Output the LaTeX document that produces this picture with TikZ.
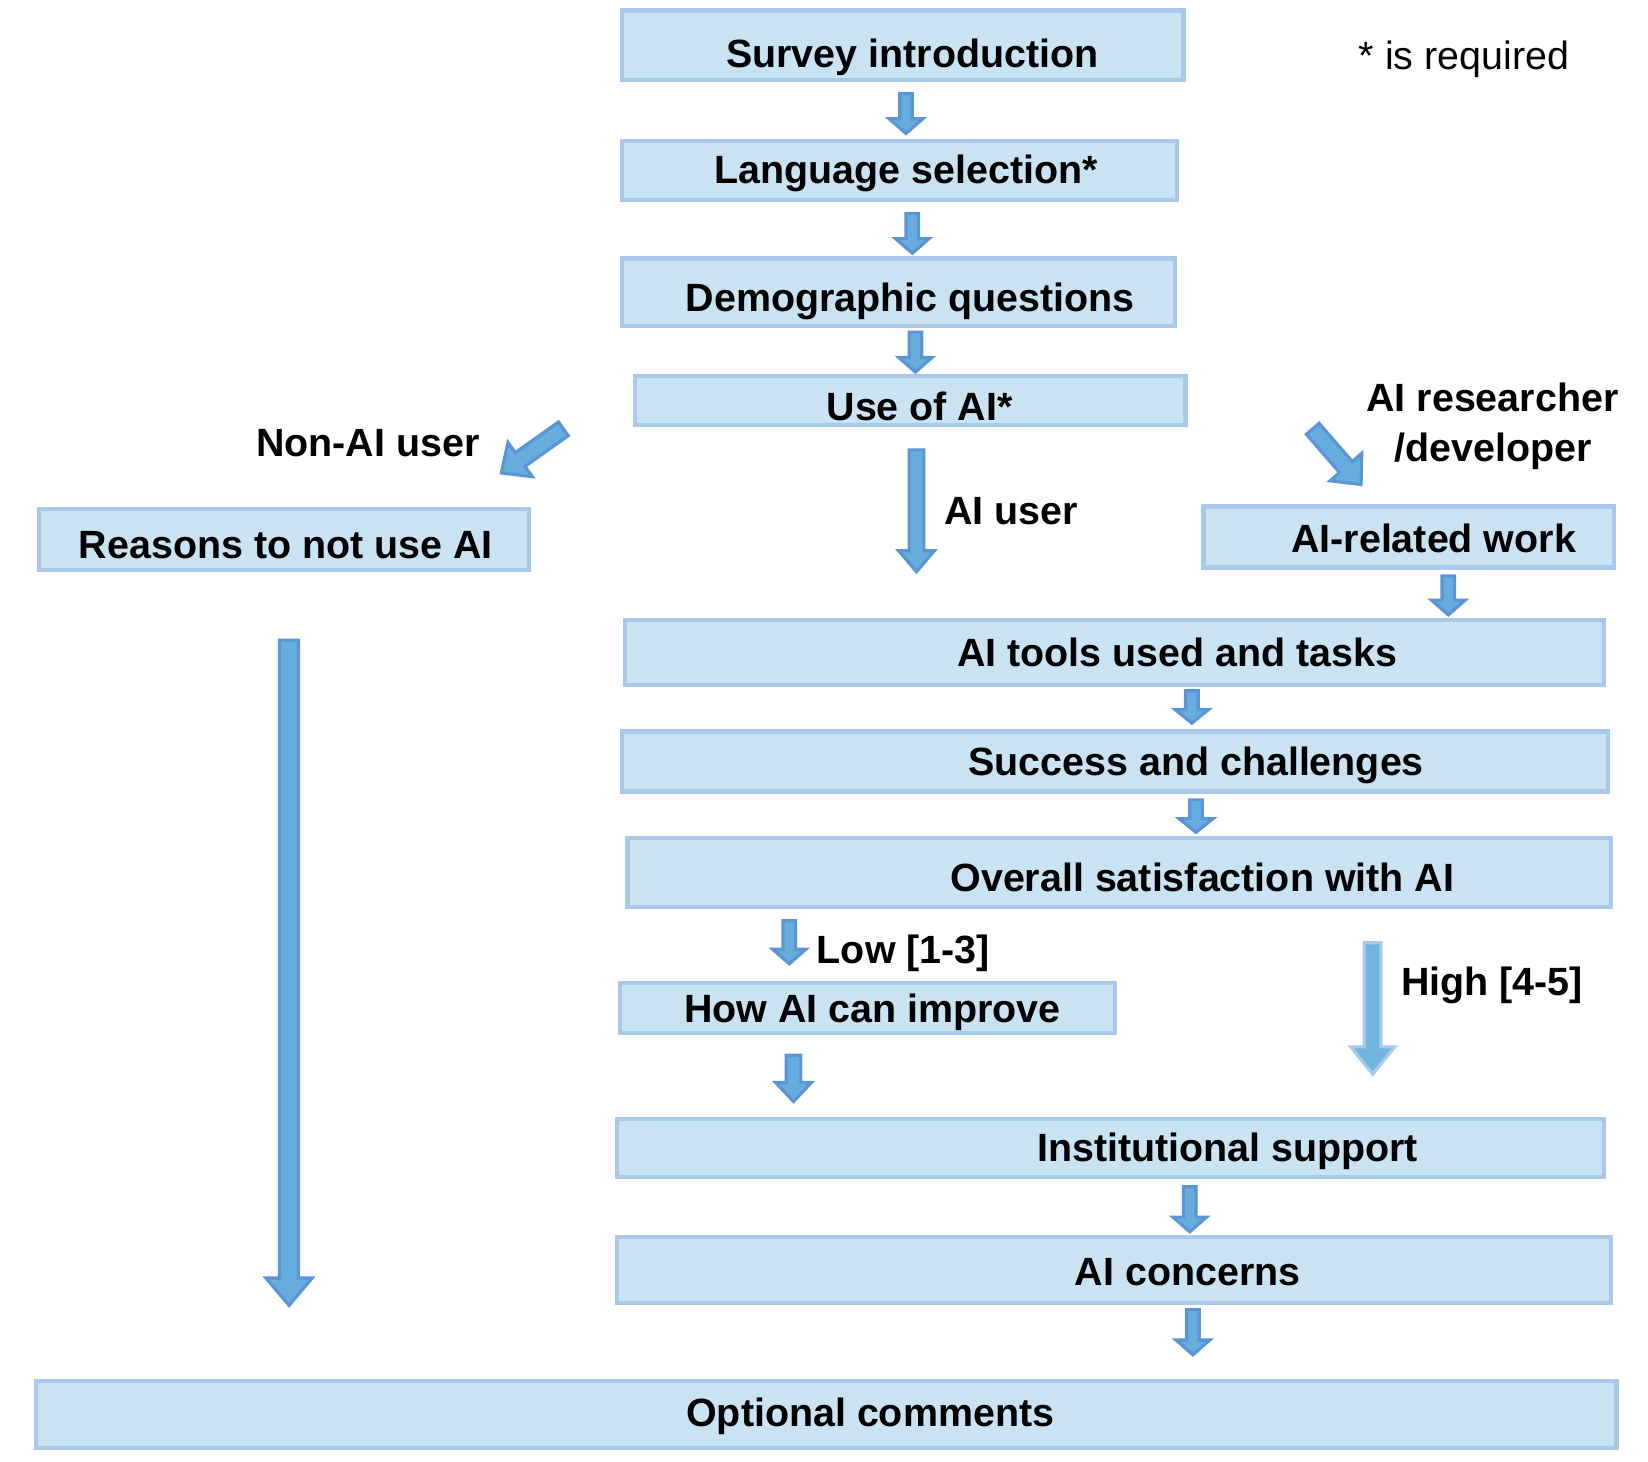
\documentclass[tikz,border=0pt]{standalone}
\usepackage{fontspec}
\setmainfont{Liberation Sans}
\definecolor{boxfill}{HTML}{C9E3F2}
\definecolor{boxline}{HTML}{A9C8EA}
\definecolor{arrfill}{HTML}{65ADDC}
\definecolor{arrline}{HTML}{5B95D5}
\definecolor{arrlight}{HTML}{A9CBEA}
\newcommand\barrow[8][]{%
  \pgfmathsetmacro\bdx{#4-#2}\pgfmathsetmacro\bdy{#5-#3}%
  \pgfmathsetmacro\bL{veclen(\bdx,\bdy)}%
  \pgfmathsetmacro\bux{\bdx/\bL}\pgfmathsetmacro\buy{\bdy/\bL}%
  \pgfmathsetmacro\bnx{-\buy}\pgfmathsetmacro\bny{\bux}%
  \pgfmathsetmacro\bpx{#4-#8*\bux}\pgfmathsetmacro\bpy{#5-#8*\buy}%
  \draw[blockarr,#1] ({#2+#6*(\bnx)},{#3+#6*(\bny)}) -- ({\bpx+#6*(\bnx)},{\bpy+#6*(\bny)})
    -- ({\bpx+#7*(\bnx)},{\bpy+#7*(\bny)}) -- (#4,#5)
    -- ({\bpx-#7*(\bnx)},{\bpy-#7*(\bny)}) -- ({\bpx-#6*(\bnx)},{\bpy-#6*(\bny)})
    -- ({#2-#6*(\bnx)},{#3-#6*(\bny)}) -- cycle;}
\tikzset{
  stepbox/.style={draw=boxline, fill=boxfill, line width=4pt},
  boxtext/.style={font=\bfseries, anchor=center, inner sep=0pt, text height=27pt, text depth=0pt},
  lbl/.style={font=\bfseries, inner sep=0pt, anchor=west, text height=27pt, text depth=0pt},
  blockarr/.style={draw=arrline, fill=arrfill, line width=3pt, line join=miter},
}
\begin{document}
\begin{tikzpicture}[x=1pt,y=-1pt]
\fontsize{37.5}{46}\selectfont
\useasboundingbox (0,0) rectangle (1568,1391);
% boxes
\draw[stepbox] (592,10) rectangle (1126,76);
\node[boxtext] (intro) at (868,51) {Survey introduction};
\draw[stepbox] (592,134) rectangle (1120,190);
\node[boxtext] (lang) at (862,161) {Language selection*};
\draw[stepbox] (592,246) rectangle (1118,310);
\node[boxtext] (demo) at (866,283) {Demographic questions};
\draw[stepbox] (604,358) rectangle (1128,404);
\node[boxtext] (use) at (875,387) {Use of AI*};
\draw[stepbox] (37,484) rectangle (503,542);
\node[boxtext] (reasons) at (272,518) {Reasons to not use AI};
\draw[stepbox] (1145,482) rectangle (1536,540);
\node[boxtext] (work) at (1364,512) {AI-related work};
\draw[stepbox] (595,590) rectangle (1526,652);
\node[boxtext] (tools) at (1120,621) {AI tools used and tasks};
\draw[stepbox] (592,696) rectangle (1530,753);
\node[boxtext] (succ) at (1138,724) {Success and challenges};
\draw[stepbox] (597,797) rectangle (1533,863);
\node[boxtext] (sat) at (1144,835) {Overall satisfaction with AI};
\draw[stepbox] (590,935) rectangle (1061,983);
\node[boxtext] (improve) at (830,959) {How AI can improve};
\draw[stepbox] (587,1065) rectangle (1526,1120);
\node[boxtext] (inst) at (1168,1092) {Institutional support};
\draw[stepbox] (587,1177) rectangle (1533,1240);
\node[boxtext] (conc) at (1130,1210) {AI concerns};
\draw[stepbox] (34,1314) rectangle (1538,1378);
\node[boxtext] (opt) at (828,1344) {Optional comments};
% labels
\node[inner sep=0pt, text height=27pt, text depth=0pt] (req) at (1393,53) {* is required};
\node[boxtext] (nonai) at (350,421) {Non-AI user};
\node[boxtext] (res1) at (1420,378) {AI researcher};
\node[boxtext] (res2) at (1421,426) {/developer};
\node[lbl] (aiuser) at (898,486) {AI user};
\node[lbl] (low) at (777,903) {Low [1-3]};
\node[lbl] (high) at (1333,934) {High [4-5]};
% arrows
\barrow{862}{89}{862}{127}{6}{16}{14}
\barrow{868}{203}{868}{241}{6}{16}{14}
\barrow{871}{316}{871}{354}{6}{16}{14}
\barrow{872}{428}{872}{544}{7}{17}{20}
\barrow{536}{408}{477}{450}{8}{20}{22}
\barrow{1249}{408}{1295}{461}{8}{20}{22}
\barrow{1378}{548}{1378}{585}{6}{16}{14}
\barrow{1134}{657}{1134}{688}{6}{16}{13}
\barrow{1138}{761}{1138}{792}{6}{16}{13}
\barrow{751}{876}{751}{917}{6}{16}{14}
\barrow[draw=arrlight, fill=arrfill!92!white]{1306}{897}{1306}{1022}{8}{21}{26}
\barrow{755}{1004}{755}{1048}{7}{17}{18}
\barrow{1132}{1129}{1132}{1172}{6}{16}{14}
\barrow{1135}{1246}{1135}{1289}{6}{16}{14}
\barrow{275}{609}{275}{1242}{9}{22}{26}
\end{tikzpicture}
\end{document}
